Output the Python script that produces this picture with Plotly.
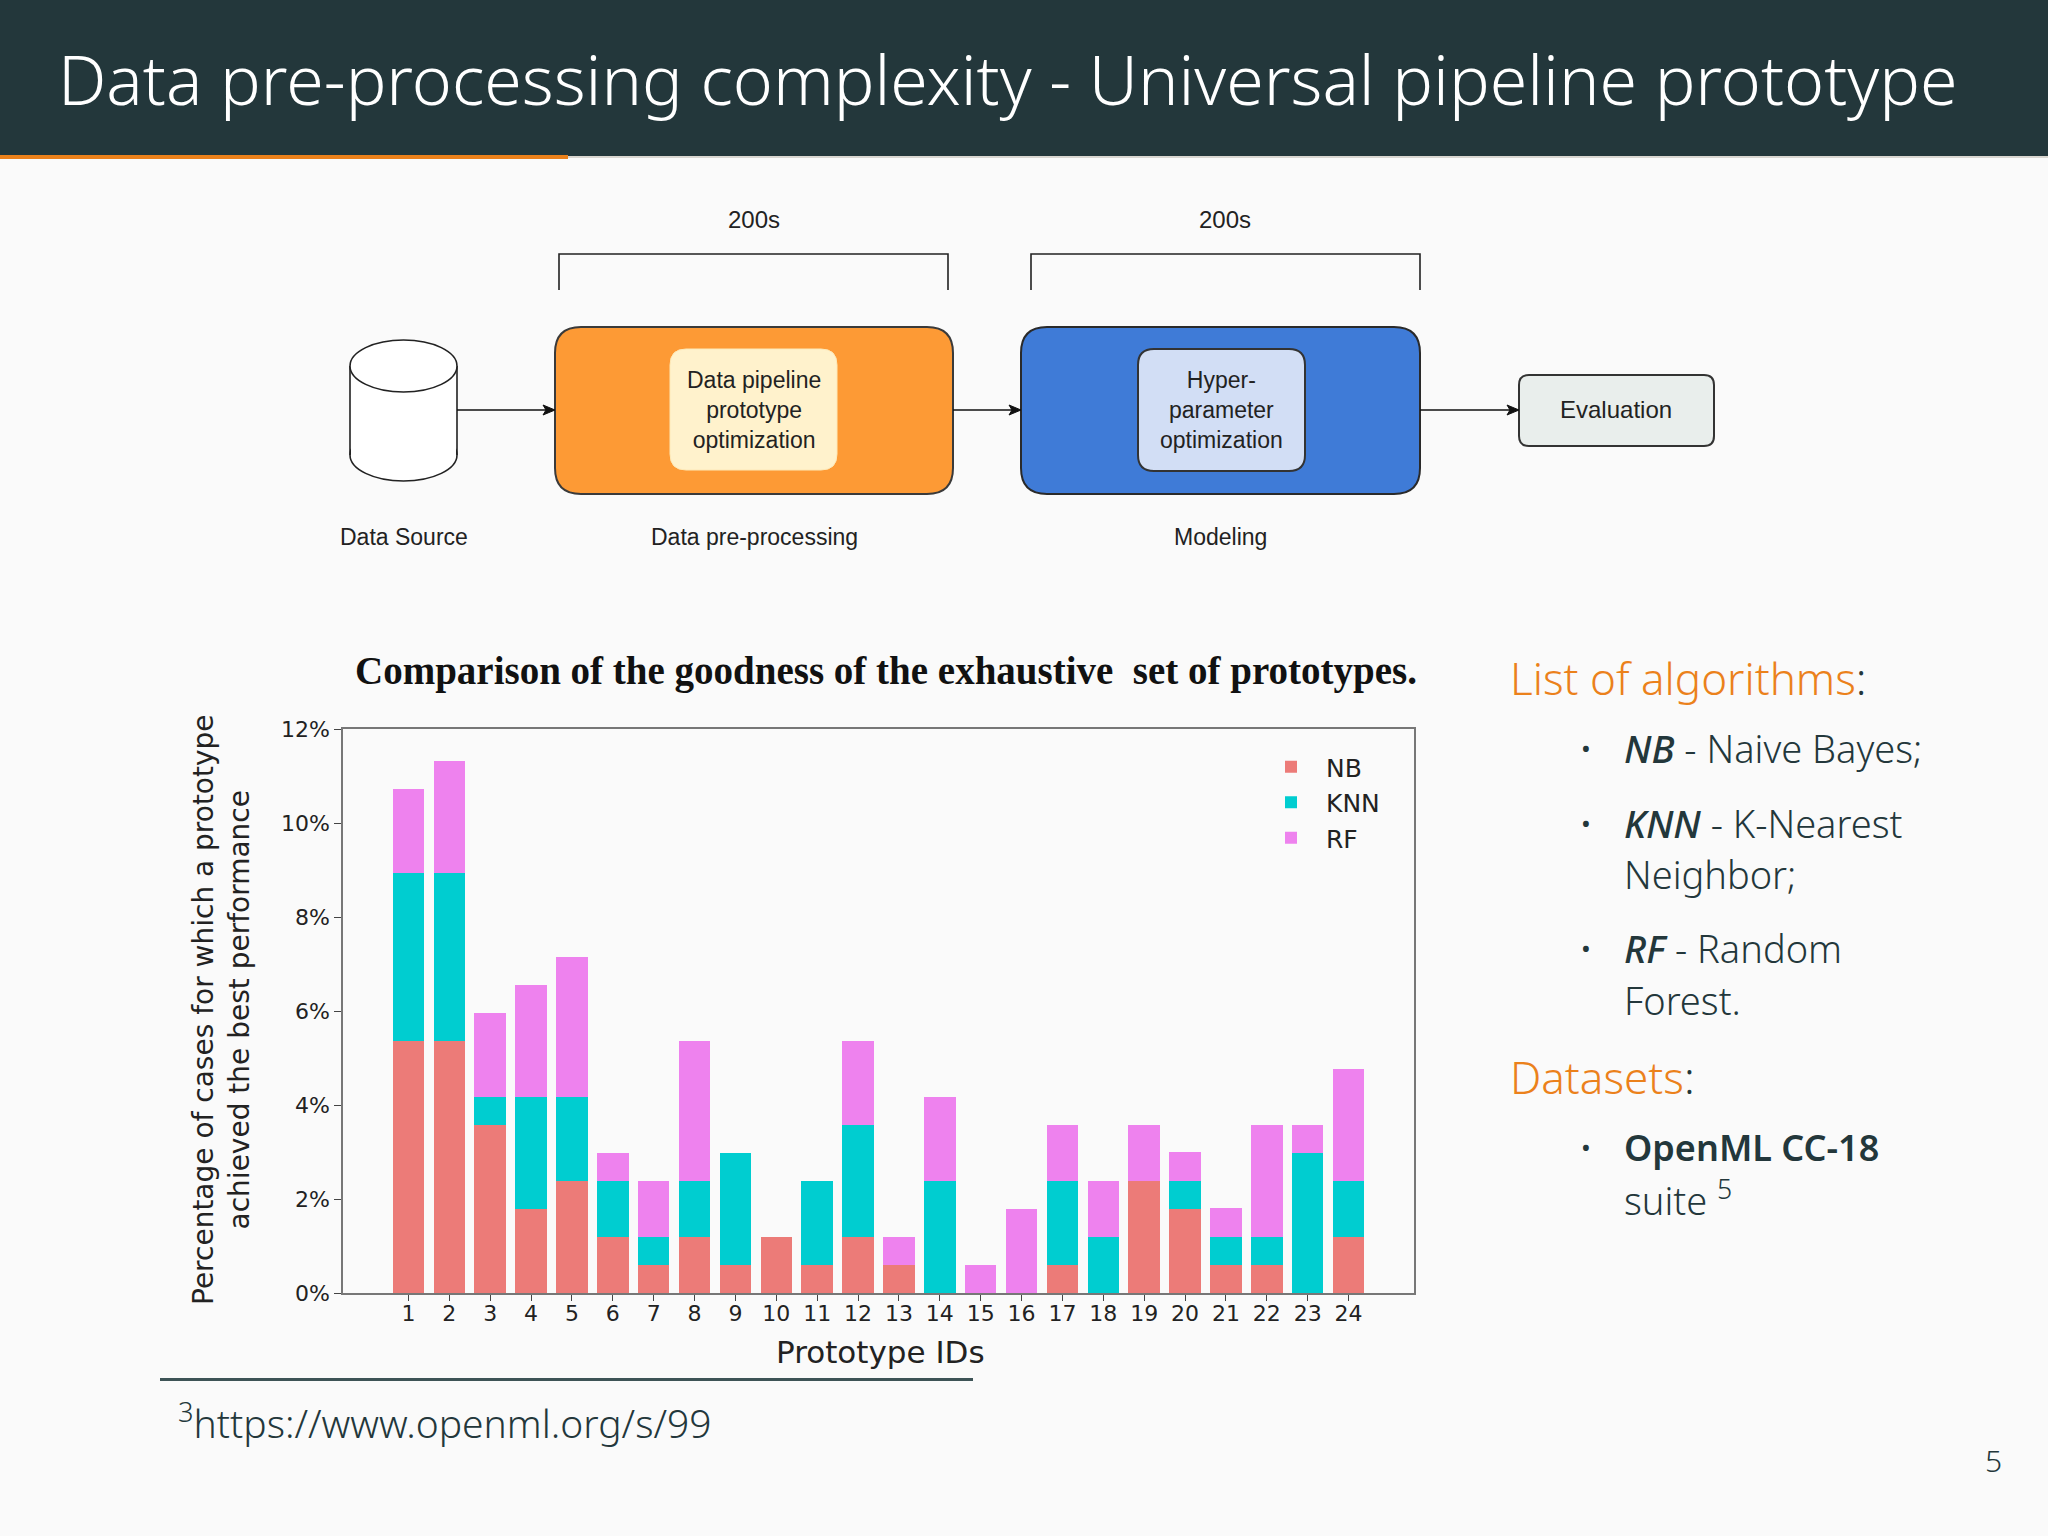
import plotly.graph_objects as go

# ---------------- data ----------------
prototype_ids = list(range(1, 25))
nb_values = [5.36, 5.36, 3.57, 1.79, 2.38, 1.19, 0.60, 1.19, 0.60, 1.19, 0.60, 1.19,
             0.60, 0.00, 0.00, 0.00, 0.60, 0.00, 2.38, 1.79, 0.60, 0.60, 0.00, 1.19]
knn_values = [3.57, 3.57, 0.60, 2.38, 1.79, 1.19, 0.60, 1.19, 2.38, 0.00, 1.79, 2.38,
              0.00, 2.38, 0.00, 0.00, 1.79, 1.19, 0.00, 0.60, 0.60, 0.60, 2.98, 1.19]
rf_values = [1.79, 2.38, 1.79, 2.38, 2.98, 0.60, 1.19, 2.98, 0.00, 0.00, 0.00, 1.79,
             0.60, 1.79, 0.60, 1.79, 1.19, 1.19, 1.19, 0.60, 0.60, 2.38, 0.60, 2.38]
series_names = ["NB", "KNN", "RF"]
y_tick_values = [0, 2, 4, 6, 8, 10, 12]
y_tick_labels = ["0%", "2%", "4%", "6%", "8%", "10%", "12%"]

slide_title = "Data pre-processing complexity - Universal pipeline prototype"
chart_title = "Comparison of the goodness of the exhaustive  set of prototypes."
x_title = "Prototype IDs"
y_title = "Percentage of cases for which a prototype<br>achieved the best performance"

# ---------------- helpers (pixel -> paper) ----------------
W, H = 2048, 1536


def X(px):
    return px / W


def Y(py):
    return 1 - py / H


def rect(x0, y0, x1, y1, fill, line=None, lw=0):
    return dict(type="rect", xref="paper", yref="paper", layer="above",
                x0=X(x0), x1=X(x1), y0=Y(y0), y1=Y(y1), fillcolor=fill,
                line=dict(color=line or fill, width=lw))


def rrect(x0, y0, x1, y1, r, fill, line="#333333", lw=2):
    p = (f"M {X(x0 + r)},{Y(y0)} L {X(x1 - r)},{Y(y0)} Q {X(x1)},{Y(y0)} {X(x1)},{Y(y0 + r)} "
         f"L {X(x1)},{Y(y1 - r)} Q {X(x1)},{Y(y1)} {X(x1 - r)},{Y(y1)} "
         f"L {X(x0 + r)},{Y(y1)} Q {X(x0)},{Y(y1)} {X(x0)},{Y(y1 - r)} "
         f"L {X(x0)},{Y(y0 + r)} Q {X(x0)},{Y(y0)} {X(x0 + r)},{Y(y0)} Z")
    return dict(type="path", xref="paper", yref="paper", layer="above", path=p,
                fillcolor=fill, line=dict(color=line, width=lw))


def polyline(pts, color="#222222", lw=1.6, fill=None, close=False):
    p = "M " + " L ".join(f"{X(a)},{Y(b)}" for a, b in pts) + (" Z" if close else "")
    d = dict(type="path", xref="paper", yref="paper", layer="above", path=p,
             line=dict(color=color, width=lw))
    if fill:
        d["fillcolor"] = fill
    return d


def ellipse(x0, y0, x1, y1, fill="white", line="#222222", lw=1.6):
    return dict(type="circle", xref="paper", yref="paper", layer="above",
                x0=X(x0), x1=X(x1), y0=Y(y0), y1=Y(y1), fillcolor=fill,
                line=dict(color=line, width=lw))


def arrow_shapes(x_tail, x_head, py):
    return [polyline([(x_tail, py), (x_head - 8, py)], color="#111111", lw=1.6),
            polyline([(x_head, py), (x_head - 12, py - 5), (x_head - 9, py), (x_head - 12, py + 5)],
                     color="#111111", lw=1, fill="#111111", close=True)]


def text(px, py, s, size, color="#222222", family="Liberation Sans, Arial",
         xanchor="center", yanchor="middle", angle=0, weight=None):
    f = dict(size=size, color=color, family=family)
    if weight:
        f["weight"] = weight
    return dict(x=X(px), y=Y(py), xref="paper", yref="paper", text=s, showarrow=False,
                xanchor=xanchor, yanchor=yanchor, textangle=angle, font=f)


# ---------------- figure ----------------
colors = ["#ec7b78", "#00cdd0", "#ee82ee"]
fig = go.Figure()
for name, vals, col in zip(series_names, [nb_values, knn_values, rf_values], colors):
    fig.add_trace(go.Bar(x=prototype_ids, y=vals, name=name, marker_color=col,
                         marker_line_width=0, width=0.77))

axis_font = dict(family="DejaVu Sans", size=22, color="#222222")
fig.update_layout(
    width=W, height=H, autosize=False,
    margin=dict(l=0, r=0, t=0, b=0, pad=0, autoexpand=False),
    paper_bgcolor="#fafafa", plot_bgcolor="#fafafa",
    barmode="stack",
    showlegend=True,
    legend=dict(x=X(1256), y=Y(744), xanchor="left", yanchor="top",
                traceorder="normal", bgcolor="rgba(0,0,0,0)",
                font=dict(family="DejaVu Sans", size=25, color="#222222"),
                itemwidth=60, tracegroupgap=0),
    xaxis=dict(domain=[X(343), X(1414)], range=[-0.6, 25.6], tickmode="array",
               tickvals=prototype_ids, ticktext=[str(i) for i in prototype_ids],
               showgrid=False, zeroline=False, showline=True, mirror=True,
               linecolor="#777777", linewidth=1.5, ticks="outside", ticklen=6,
               tickcolor="#444444", tickfont=axis_font, automargin=False,
               ticklabelstandoff=-6),
    yaxis=dict(domain=[Y(1293), Y(729)], range=[0, 12], tickmode="array",
               tickvals=y_tick_values, ticktext=y_tick_labels,
               showgrid=False, zeroline=False, showline=True, mirror=True,
               linecolor="#777777", linewidth=1.5, ticks="outside", ticklen=7,
               tickcolor="#444444", tickfont=axis_font, automargin=False),
)

shapes = []
# header band
shapes.append(rect(0, 0, W, 156, "#23373b"))
shapes.append(rect(568, 156, W, 158, "#d9d6d0"))
shapes.append(rect(0, 155, 568, 159, "#eb811b"))

# brackets
shapes.append(polyline([(559, 290), (559, 254), (948, 254), (948, 290)]))
shapes.append(polyline([(1031, 290), (1031, 254), (1420, 254), (1420, 290)]))

# cylinder (data source)
shapes.append(ellipse(350, 429, 457, 481))
shapes.append(rect(351, 366, 456, 455, "white"))
shapes.append(polyline([(350, 366), (350, 455)]))
shapes.append(polyline([(457, 366), (457, 455)]))
shapes.append(ellipse(350, 340, 457, 392))

# boxes
shapes.append(rrect(555, 327, 953, 494, 26, "#fd9a35", "#3a3a3a", 2))
shapes.append(rrect(670, 349, 837, 470, 16, "#fff2cc", "#fde9b8", 1))
shapes.append(rrect(1021, 327, 1420, 494, 26, "#3f7bd7", "#2a2a2a", 2))
shapes.append(rrect(1138, 349, 1305, 471, 16, "#d2def5", "#333333", 2))
shapes.append(rrect(1519, 375, 1714, 446, 10, "#e9eeec", "#333333", 2))

# arrows
shapes += arrow_shapes(457, 555, 410)
shapes += arrow_shapes(953, 1021, 410)
shapes += arrow_shapes(1420, 1519, 410)

# footnote rule
shapes.append(rect(160, 1378, 973, 1381, "#3d5356"))

fig.update_layout(shapes=shapes)

ann = []
dark = "#23373b"
body_font = "Noto Sans, Open Sans"
ann.append(text(56, 78, slide_title, 68, color="white", family=body_font, xanchor="left",
                weight=300))

# diagram texts
ann.append(text(754, 219, "200s", 24))
ann.append(text(1225, 219, "200s", 24))
ann.append(text(754, 410, "Data pipeline<br>prototype<br>optimization", 23, color="#222222"))
ann.append(text(1221, 410, "Hyper-<br>parameter<br>optimization", 23, color="#222222"))
ann.append(text(1616, 410, "Evaluation", 24, color="#222222"))
ann.append(text(404, 537, "Data Source", 23))
ann.append(text(754, 537, "Data pre-processing", 23))
ann.append(text(1220, 537, "Modeling", 23))

# chart texts
ann.append(text(886, 671, "<b>" + chart_title + "</b>", 39, color="#111111",
                family="Liberation Serif, Times New Roman"))
ann.append(text(880, 1352, x_title, 31, family="DejaVu Sans"))
ann.append(text(221, 1010, y_title, 28, family="DejaVu Sans", angle=-90))

# right panel
orange = "#eb811b"
ann.append(text(1508, 678, f'<span style="color:{orange}">List of algorithms</span>:', 44,
                color=dark, family=body_font, xanchor="left", weight=300))
bullet_rows = [
    (748, "•", '<i><span style="font-weight:500">NB</span></i> - Naive Bayes;'),
    (823, "•", '<i><span style="font-weight:500">KNN</span></i> - K-Nearest'),
    (874, "", "Neighbor;"),
    (948, "•", '<i><span style="font-weight:500">RF</span></i> - Random'),
    (1000, "", "Forest."),
]
for yy, b, s in bullet_rows:
    if b:
        ann.append(text(1586, yy, b, 26, color=dark, family=body_font))
    ann.append(text(1622, yy, s, 38, color=dark, family=body_font, xanchor="left", weight=300))
ann.append(text(1508, 1077, f'<span style="color:{orange}">Datasets</span>:', 44,
                color=dark, family=body_font, xanchor="left", weight=300))
ann.append(text(1586, 1147, "•", 26, color=dark, family=body_font))
ann.append(text(1622, 1147, "OpenML CC-18", 36, color=dark, family=body_font,
                xanchor="left", weight=600))
ann.append(text(1622, 1198, "suite <sup>5</sup>", 38, color=dark, family=body_font,
                xanchor="left", weight=300))

# footnote and page number
ann.append(text(176, 1421, "<sup>3</sup>https://www.openml.org/s/99", 39, color=dark,
                family=body_font, xanchor="left", weight=300))
ann.append(text(1993, 1460, "5", 30, color=dark, family=body_font, weight=300))

fig.update_layout(annotations=ann)
fig.write_html("out.html", config={"displayModeBar": False},
               post_script="document.body.style.margin='0';document.body.style.overflow='hidden';")
